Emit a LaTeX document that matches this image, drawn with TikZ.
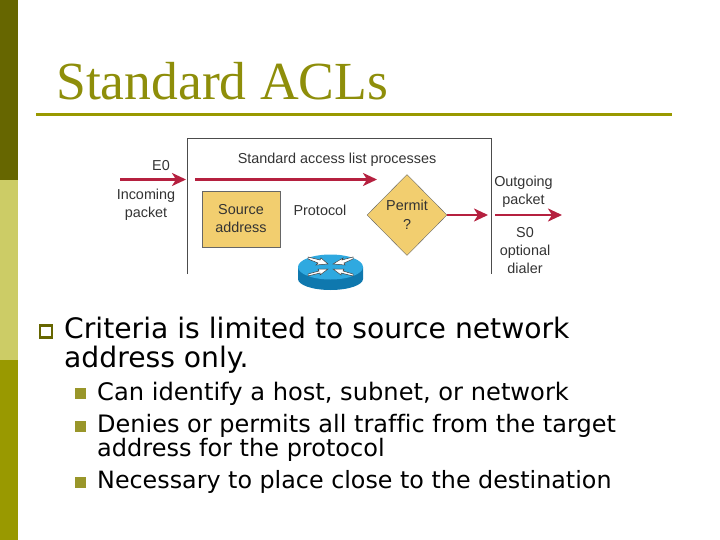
\documentclass[tikz,border=0pt]{standalone}
\usepackage{fontspec}
\setmainfont[Ligatures=NoCommon]{DejaVu Sans}
\newfontfamily\titlefont{Liberation Serif}
\newfontfamily\labelfont{Liberation Sans}
\usetikzlibrary{shapes,shapes.geometric,arrows.meta}
\definecolor{olivedark}{HTML}{666600}
\definecolor{olivelight}{HTML}{CCCC66}
\definecolor{olivemain}{HTML}{999900}
\definecolor{olivetitle}{HTML}{8E8E0A}
\definecolor{olivebullet}{HTML}{99962A}
\definecolor{flowred}{HTML}{B5203F}
\definecolor{flowgold}{HTML}{F2CE6F}
\definecolor{routertop}{HTML}{2FA9E0}
\definecolor{routerside}{HTML}{0F78AE}
\tikzset{
	flow/.style={-{Stealth[length=14pt,width=13pt,inset=4pt]}, draw=flowred, line width=2.6pt},
	difflabel/.style={font=\labelfont\fontsize{14.4}{18}\selectfont, text=black!80, align=center, inner sep=0pt},
	mainline/.style={anchor=north west, inner sep=0pt, align=left, text=black, font=\fontsize{28.2}{29}\selectfont},
	subline/.style={anchor=north west, inner sep=0pt, align=left, text=black, font=\fontsize{#1}{24}\selectfont},
	subbullet/.style={fill=olivebullet, minimum size=11pt, inner sep=0pt},
	routerarrow/.style={draw=black!75, line width=0.5pt, fill=white}
}
\begin{document}
\begin{tikzpicture}[x=1pt, y=-1pt]
	\useasboundingbox (0,0) rectangle (720,540);
	% side bars
	\fill [olivedark] (0,0) rectangle (18,180);
	\fill [olivelight] (0,180) rectangle (18,360);
	\fill [olivemain] (0,360) rectangle (18,540);
	% title
	\node [anchor=base west, inner sep=0pt, text=olivetitle, font=\titlefont\fontsize{53.6}{54}\selectfont] (title) at (56,100) {Standard ACLs};
	\coordinate (ruleleft) at (36,114.5);
	\coordinate (ruleright) at (672,114.5);
	\draw [olivemain, line width=3pt] (ruleleft) -- (ruleright);
	% access list frame
	\coordinate (frameleft) at (187,274);
	\coordinate (frametl) at (187,138);
	\coordinate (frametr) at (491,138);
	\coordinate (frameright) at (491,274);
	\draw [black!70, line width=0.9pt] (frameleft) -- (frametl) -- (frametr) -- (frameright);
	% diagram nodes
	\node [draw=black!60, fill=flowgold, minimum width=78pt, minimum height=56pt, inner sep=0pt, difflabel] (source) at (241,219) {Source\\address};
	\node [diamond, draw=black!60, fill=flowgold, minimum width=80pt, minimum height=81pt, inner sep=0pt, difflabel] (permit) at (407,215) {Permit\\[1pt]?};
	\node [difflabel] (protocol) at (320,210) {Protocol};
	\node [difflabel] (lists) at (337,160) {Standard access list processes};
	\node [difflabel] (ezero) at (161,165.5) {E0};
	\node [difflabel] (incoming) at (146,204.5) {Incoming\\packet};
	\node [difflabel] (outgoing) at (523.5,192) {Outgoing\\packet};
	\node [difflabel] (szero) at (525,251) {S0\\optional\\dialer};
	% flows
	\coordinate (inbegin) at (120,179.5);
	\coordinate (inend) at (186,179.5);
	\coordinate (listbegin) at (195,179.5);
	\coordinate (listend) at (377,179.5);
	\coordinate (passend) at (488,215);
	\coordinate (outbegin) at (495,215);
	\coordinate (outend) at (562,215);
	\draw [flow] (inbegin) -- (inend);
	\draw [flow] (listbegin) -- (listend);
	\draw [flow] (permit.east) -- (passend);
	\draw [flow] (outbegin) -- (outend);
	% router
	\fill [routerside] (298,267) -- (298,279) arc [start angle=180, end angle=0, x radius=32.5, y radius=11] -- (363,267) -- cycle;
	\fill [routertop] (330.5,267) ellipse [x radius=32.5, y radius=12.5];
	\draw [routerarrow] (308,257) -- (320,260) -- (321,258) -- (328,264) -- (316,265) -- (318,263) -- (308,259) -- cycle;
	\draw [routerarrow] (353,257) -- (342,260) -- (343,258) -- (333,264) -- (345,265) -- (344,263) -- (353,259) -- cycle;
	\draw [routerarrow] (308,274) -- (319,271) -- (318,269) -- (328,269) -- (320,275) -- (320,273) -- (308,276) -- cycle;
	\draw [routerarrow] (353,274) -- (343,271) -- (344,269) -- (333,269) -- (341,275) -- (341,273) -- (353,276) -- cycle;
	% bullets and text
	\node [draw=olivedark, line width=2.5pt, fill=white, minimum size=12pt, inner sep=0pt] (mainbullet) at (46,331.5) {};
	\node [mainline] (criteria) at (64,317) {Criteria is limited to source network\\address only.};
	\node [subbullet] (subone) at (80.5,393.5) {};
	\node [subline=24.15] (identify) at (97,382) {Can identify a host, subnet, or network};
	\node [subbullet] (subtwo) at (80.5,426) {};
	\node [subline=24] (denies) at (97,414) {Denies or permits all traffic from the target\\address for the protocol};
	\node [subbullet] (subthree) at (80.5,482.5) {};
	\node [subline=23.8] (necessary) at (97,470) {Necessary to place close to the destination};
\end{tikzpicture}
\end{document}
